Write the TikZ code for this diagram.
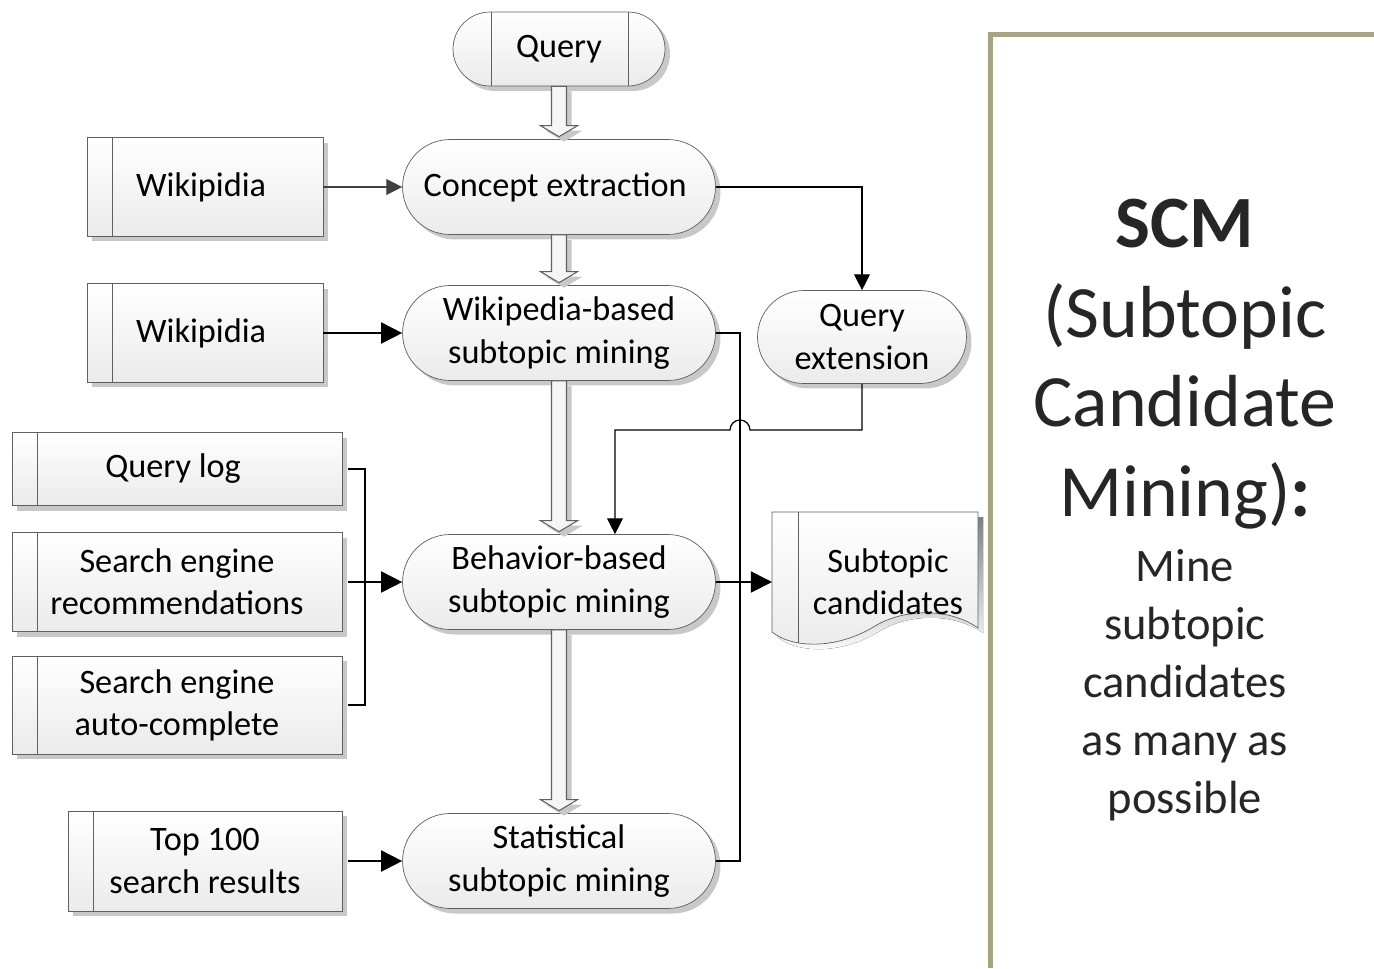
\documentclass[tikz,border=0pt]{standalone}
\usepackage{fontspec}
\setmainfont{Carlito}
\usepackage{tikz}
\usetikzlibrary{positioning}
\usetikzlibrary{calc,shapes.misc,shadows,arrows.meta}

\definecolor{boxline}{RGB}{96,96,96}
\definecolor{shade}{RGB}{200,200,200}
\definecolor{panel}{RGB}{168,164,124}

\tikzset{
  boxfont/.style={font=\fontsize{19.5}{24}\selectfont},
  shadowed/.style={drop shadow={shadow xshift=0.1cm,shadow yshift=-0.1cm,fill=shade,opacity=1}},
  process/.style={rounded rectangle,draw=boxline,top color=white,bottom color=black!8,
    shadowed,boxfont,align=center,minimum width=6.26cm,minimum height=1.9cm,inner sep=0pt},
  source/.style={rectangle,draw=boxline,top color=white,bottom color=black!8,
    shadowed,boxfont,align=center,minimum height=1.98cm,inner sep=0pt,
    path picture={\draw[boxline] ($(path picture bounding box.north west)+(25,0)$)
      -- ($(path picture bounding box.south west)+(25,0)$);}},
  flow/.style={-{Triangle[length=12pt,width=12pt]},line width=1pt},
  thinflow/.style={-{Triangle[length=9pt,width=9pt]},line width=0.7pt},
  hollow/.style={draw=boxline,fill=black!4,shadowed,line width=0.6pt},
}

% wide outlined arrow between two stacked steps
\newcommand{\hollowarrow}[2]{%
  \path[hollow] let \p1=(#1.south), \p2=(#2.north) in
    (\x1-0.15cm,\y1) -- (\x1-0.15cm,\y2+0.27cm) -- (\x1-0.37cm,\y2+0.27cm)
    -- (\x1,\y2+0.05cm) -- (\x1+0.37cm,\y2+0.27cm) -- (\x1+0.15cm,\y2+0.27cm)
    -- (\x1+0.15cm,\y1) -- cycle;}

\begin{document}
\begin{tikzpicture}[x=0.02cm,y=-0.02cm]
  \useasboundingbox (0,0) rectangle (1374,968);

  \node at (559,49) [rounded rectangle,draw=boxline,top color=white,bottom color=black!8,
    shadowed,boxfont,minimum width=4.24cm,minimum height=1.48cm,inner sep=0pt,
    path picture={
      \draw[boxline] ($(path picture bounding box.north)+(-68,0)$) -- ($(path picture bounding box.south)+(-68,0)$);
      \draw[boxline] ($(path picture bounding box.north)+(69,0)$) -- ($(path picture bounding box.south)+(69,0)$);
    }] (query) {
    Query
  };

  \node at (559,187) [process] (concept) {
    Concept extraction
  };

  \node at (559,333) [process] (wikibased) {
    Wikipedia-based\\subtopic mining
  };

  \node at (862,337) [process,minimum width=4.18cm,minimum height=1.86cm] (qext) {
    Query\\extension
  };

  \node at (559,582) [process] (behavior) {
    Behavior-based\\subtopic mining
  };

  \node at (559,861) [process] (stat) {
    Statistical\\subtopic mining
  };

  \node at (205,187) [source,minimum width=4.72cm] (wiki1) {
    Wikipidia
  };

  \node at (205,333) [source,minimum width=4.72cm] (wiki2) {
    Wikipidia
  };

  \node at (177,469) [source,minimum width=6.6cm,minimum height=1.46cm] (qlog) {
    Query log
  };

  \node at (177,582) [source,minimum width=6.6cm] (serec) {
    Search engine\\recommendations
  };

  \node at (177,705) [source,minimum width=6.6cm,minimum height=1.96cm] (seauto) {
    Search engine\\auto-complete
  };

  \node at (205,861) [source,minimum width=5.48cm,minimum height=2cm] (top) {
    Top 100\\search results
  };

  % output document
  \fill[shade,shift={(5,5)}] (772,512) -- (978,512) -- (978,628)
    .. controls (950,608) and (905,608) .. (875,626)
    .. controls (840,648) and (795,650) .. (772,632) -- cycle;
  \draw[boxline,top color=white,bottom color=black!8] (772,512) -- (978,512) -- (978,628)
    .. controls (950,608) and (905,608) .. (875,626)
    .. controls (840,648) and (795,650) .. (772,632) -- cycle;
  \draw[boxline] (798,512) -- (798,643);
  \node at (888,582) [boxfont,align=center] (cand) {
    Subtopic\\candidates
  };
  \coordinate (candin) at (772,582);

  \hollowarrow{query}{concept}
  \hollowarrow{concept}{wikibased}
  \hollowarrow{wikibased}{behavior}
  \hollowarrow{behavior}{stat}

  \draw[thinflow,black!75] (wiki1) -- (concept);
  \draw[flow] (wiki2) -- (wikibased);
  \draw[thinflow] (concept.east) -| (qext.north);

  \coordinate (jump) at (750,430);
  \draw[thinflow] (qext.south) |- (jump) arc[start angle=0,end angle=180,radius=0.2cm]
    -| ($(behavior.north)+(56,0)$);

  \coordinate (merge) at (365,582);
  \draw[line width=1pt] ([xshift=0.12cm]qlog.east) -| (merge) |- ([xshift=0.12cm]seauto.east);
  \draw[line width=1pt] ([xshift=0.12cm]serec.east) -- (merge);
  \draw[flow] (merge) -- (behavior.west);
  \draw[flow] ([xshift=0.12cm]top.east) -- (stat.west);

  \coordinate (busend) at (740,861);
  \draw[line width=1pt] (wikibased.east) -| (busend) -- (stat.east);
  \draw[flow] (behavior.east) -- (candin);

  % right panel
  \draw[panel,line width=0.1cm] (990,968) -- (990,34) -- (1374,34);

  \node at (1185,364) [align=center,font=\fontsize{42}{51}\selectfont,text=black!85] (scm) {
    \textbf{SCM}\\(Subtopic\\Candidate\\Mining)\textbf{:}
  };

  \node at (1185,685) [align=center,font=\fontsize{26.5}{33}\selectfont,text=black!85] (scmtext) {
    Mine\\subtopic\\candidates\\as many as\\possible
  };
\end{tikzpicture}
\end{document}
